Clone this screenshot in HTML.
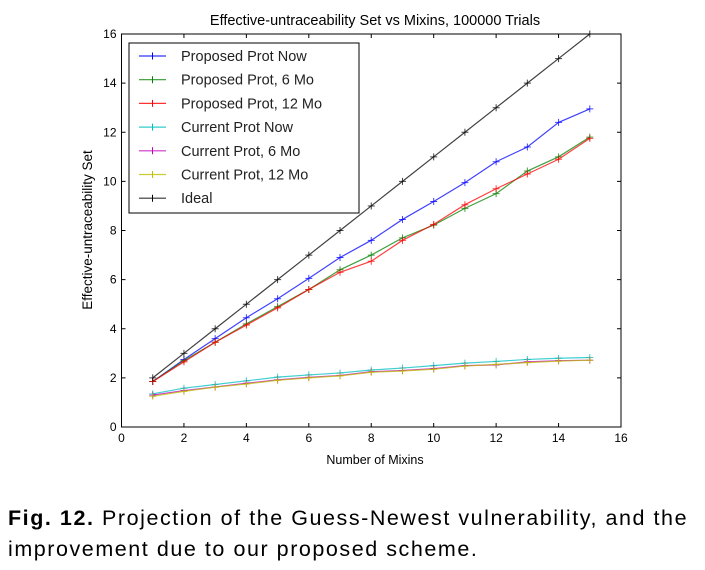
<!DOCTYPE html>
<html><head><meta charset="utf-8"><style>
body{margin:0;background:#fff;width:705px;height:570px;overflow:hidden;font-family:"Liberation Sans",sans-serif}
#cap{position:absolute;left:8px;top:503px;font-size:21.5px;letter-spacing:1.55px;line-height:31px;color:#000;width:700px;white-space:nowrap}
</style></head><body>
<svg id="chart" width="705" height="490" style="position:absolute;left:0;top:0" font-family="Liberation Sans, sans-serif"></svg>
<div id="cap"><b>Fig. 12.</b> Projection of the Guess-Newest vulnerability, and the<br>improvement due to our proposed scheme.</div>
<script>
const xs=[1,2,3,4,5,6,7,8,9,10,11,12,13,14,15];
const blue=[1.85,2.75,3.6,4.45,5.22,6.05,6.9,7.6,8.45,9.18,9.95,10.8,11.4,12.4,12.95];
const green=[1.85,2.7,3.45,4.2,4.9,5.6,6.4,7.0,7.7,8.22,8.9,9.5,10.42,11.0,11.8];
const red=[1.85,2.65,3.45,4.15,4.85,5.6,6.3,6.75,7.6,8.25,9.05,9.7,10.3,10.9,11.75];
const cyan=[1.35,1.58,1.73,1.88,2.03,2.12,2.2,2.32,2.4,2.5,2.6,2.67,2.75,2.8,2.83];
const magenta=[1.3,1.48,1.63,1.78,1.92,2.02,2.1,2.25,2.3,2.38,2.5,2.53,2.65,2.7,2.72];
const yellow=[1.25,1.45,1.62,1.75,1.9,2.0,2.08,2.23,2.28,2.35,2.48,2.55,2.62,2.68,2.72];
const ideal=[2,3,4,5,6,7,8,9,10,11,12,13,14,15,16];
const names=["Proposed Prot Now","Proposed Prot, 6 Mo","Proposed Prot, 12 Mo","Current Prot Now","Current Prot, 6 Mo","Current Prot, 12 Mo","Ideal"];
const xticks=[0,2,4,6,8,10,12,14,16];
const yticks=[0,2,4,6,8,10,12,14,16];
const series=[blue,green,red,cyan,magenta,yellow,ideal];
const colors=["#0000ff","#008000","#ff0000","#00bfbf","#bf00bf","#bfbf00","#000000"];
const L=121.5,R=621,T=34,B=427;
const X=v=>L+(v-0)/16*(R-L), Y=v=>B-(v-0)/16*(B-T);
const s=document.getElementById('chart');const NS="http://www.w3.org/2000/svg";
function mk(t,a,p){const e=document.createElementNS(NS,t);for(const k in a)e.setAttribute(k,a[k]);(p||s).appendChild(e);return e;}
let e;
e=mk('text',{x:375,y:25,'text-anchor':'middle','font-size':14.5});e.textContent="Effective-untraceability Set vs Mixins, 100000 Trials";


xticks.forEach(v=>{e=mk('text',{x:X(v),y:442,'text-anchor':'middle','font-size':12});e.textContent=v;


mk('line',{x1:X(v),x2:X(v),y1:B,y2:B-4,stroke:'#000'});mk('line',{x1:X(v),x2:X(v),y1:T,y2:T+4,stroke:'#000'});});
yticks.forEach(v=>{e=mk('text',{x:L-5,y:Y(v)+4,'text-anchor':'end','font-size':12});e.textContent=v;


mk('line',{x1:L,x2:L+4,y1:Y(v),y2:Y(v),stroke:'#000'});mk('line',{x1:R,x2:R-4,y1:Y(v),y2:Y(v),stroke:'#000'});});
e=mk('text',{x:375,y:464,'text-anchor':'middle','font-size':12.5});e.textContent="Number of Mixins";


e=mk('text',{x:92,y:230,'text-anchor':'middle','font-size':13.5,transform:'rotate(-90 92 230)'});e.textContent="Effective-untraceability Set";


series.forEach((d,i)=>{
 const g=mk('g',{});
 
 
 mk('polyline',{points:d.map((v,j)=>X(xs[j])+','+Y(v)).join(' '),fill:'none',stroke:colors[i],'stroke-width':1.2,'stroke-opacity':0.75},g);
 d.forEach((v,j)=>{const cx=X(xs[j]),cy=Y(v);mk('path',{d:`M${cx-3.5},${cy}H${cx+3.5}M${cx},${cy-3.5}V${cy+3.5}`,stroke:colors[i],'stroke-width':1,'stroke-opacity':0.75},g);});
});
mk('rect',{x:L,y:T,width:R-L,height:B-T,fill:'none',stroke:'#000','stroke-width':1});
const lg=mk('g',{});


mk('rect',{x:129,y:43,width:230,height:170,fill:'#fff',stroke:'#000','stroke-width':1},lg);
names.forEach((n,i)=>{const y=56+i*23.7;
 mk('line',{x1:139,x2:166,y1:y,y2:y,stroke:colors[i],'stroke-width':1.2,'stroke-opacity':0.8},lg);
 mk('path',{d:`M152.5,${y-3.5}V${y+3.5}`,stroke:colors[i]},lg);
 e=mk('text',{x:181,y:y+5,'font-size':14.5,fill:'#222'},lg);e.textContent=n;
 
 
});
</script>
</body></html>
